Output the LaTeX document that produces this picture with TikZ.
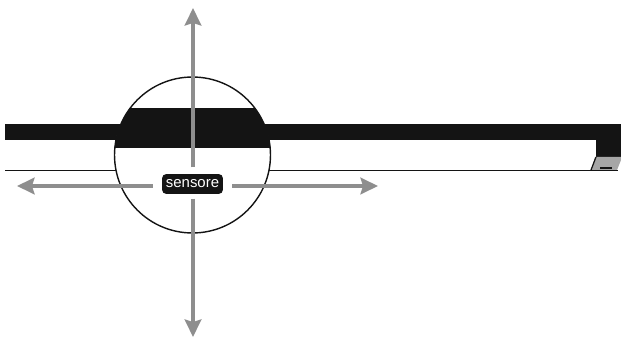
\documentclass[tikz,border=0pt]{standalone}
\usepackage{xcolor}
\usepackage{fontspec}
\setmainfont{Liberation Sans}
\usetikzlibrary{arrows.meta}
\definecolor{barBlack}{HTML}{141414}
\definecolor{arrowGrey}{HTML}{8E8E8E}
\definecolor{cornerGrey}{HTML}{A6A6A6}
\tikzset{
  lensnode/.style={circle, draw=barBlack, line width=0.8pt, fill=white, minimum size=3.12cm, inner sep=0pt},
  sensorbox/.style={rectangle, rounded corners=2.5pt, fill=barBlack, text=white, font=\fontsize{8.5}{10}\selectfont, minimum width=1.22cm, minimum height=0.4cm, inner sep=0pt},
  sensorarrow/.style={-{Stealth[length=10pt,width=9.5pt,inset=1.5pt]}, line width=1.8pt, draw=arrowGrey},
  sillline/.style={draw=barBlack, line width=0.8pt},
}
\begin{document}
\begin{tikzpicture}[x=0.02cm,y=-0.02cm]
  \useasboundingbox (0,0) rectangle (621,337);
  % --- bar and right end ---
  \fill[barBlack] (5,124) rectangle (621,140);
  \fill[barBlack] (596,140) rectangle (621,157);
  \fill[cornerGrey] (595,157) -- (621,157) -- (621,160) -- (617,170) -- (591,170) -- cycle;
  \draw[barBlack, line width=1pt] (600,168) -- (612,168);
  \draw[sillline] (5,170.5) -- (618,170.5);
  \draw[barBlack, line width=0.7pt] (596,157) -- (591,170);

  % path picture coordinates start from the centre of the node
  \node[lensnode, path picture={\fill[barBlack] (-90,-47) rectangle (90,-7);}] (lens) at (192.5,155) {};

  \node[sensorbox] (sensore) at (192.5,184) {sensore};
  \coordinate (tipN) at (193,8);
  \coordinate (tipS) at (193,337);
  \coordinate (tipW) at (17,186);
  \coordinate (tipE) at (378,186);

  \draw[sensorarrow, shorten <=3.5pt] (sensore.north -| tipN) -- (tipN);
  \draw[sensorarrow, shorten <=2.5pt] (sensore.south -| tipS) -- (tipS);
  \draw[sensorarrow, shorten <=5pt] (sensore.west |- tipW) -- (tipW);
  \draw[sensorarrow, shorten <=5pt] (sensore.east |- tipE) -- (tipE);
\end{tikzpicture}
\end{document}
